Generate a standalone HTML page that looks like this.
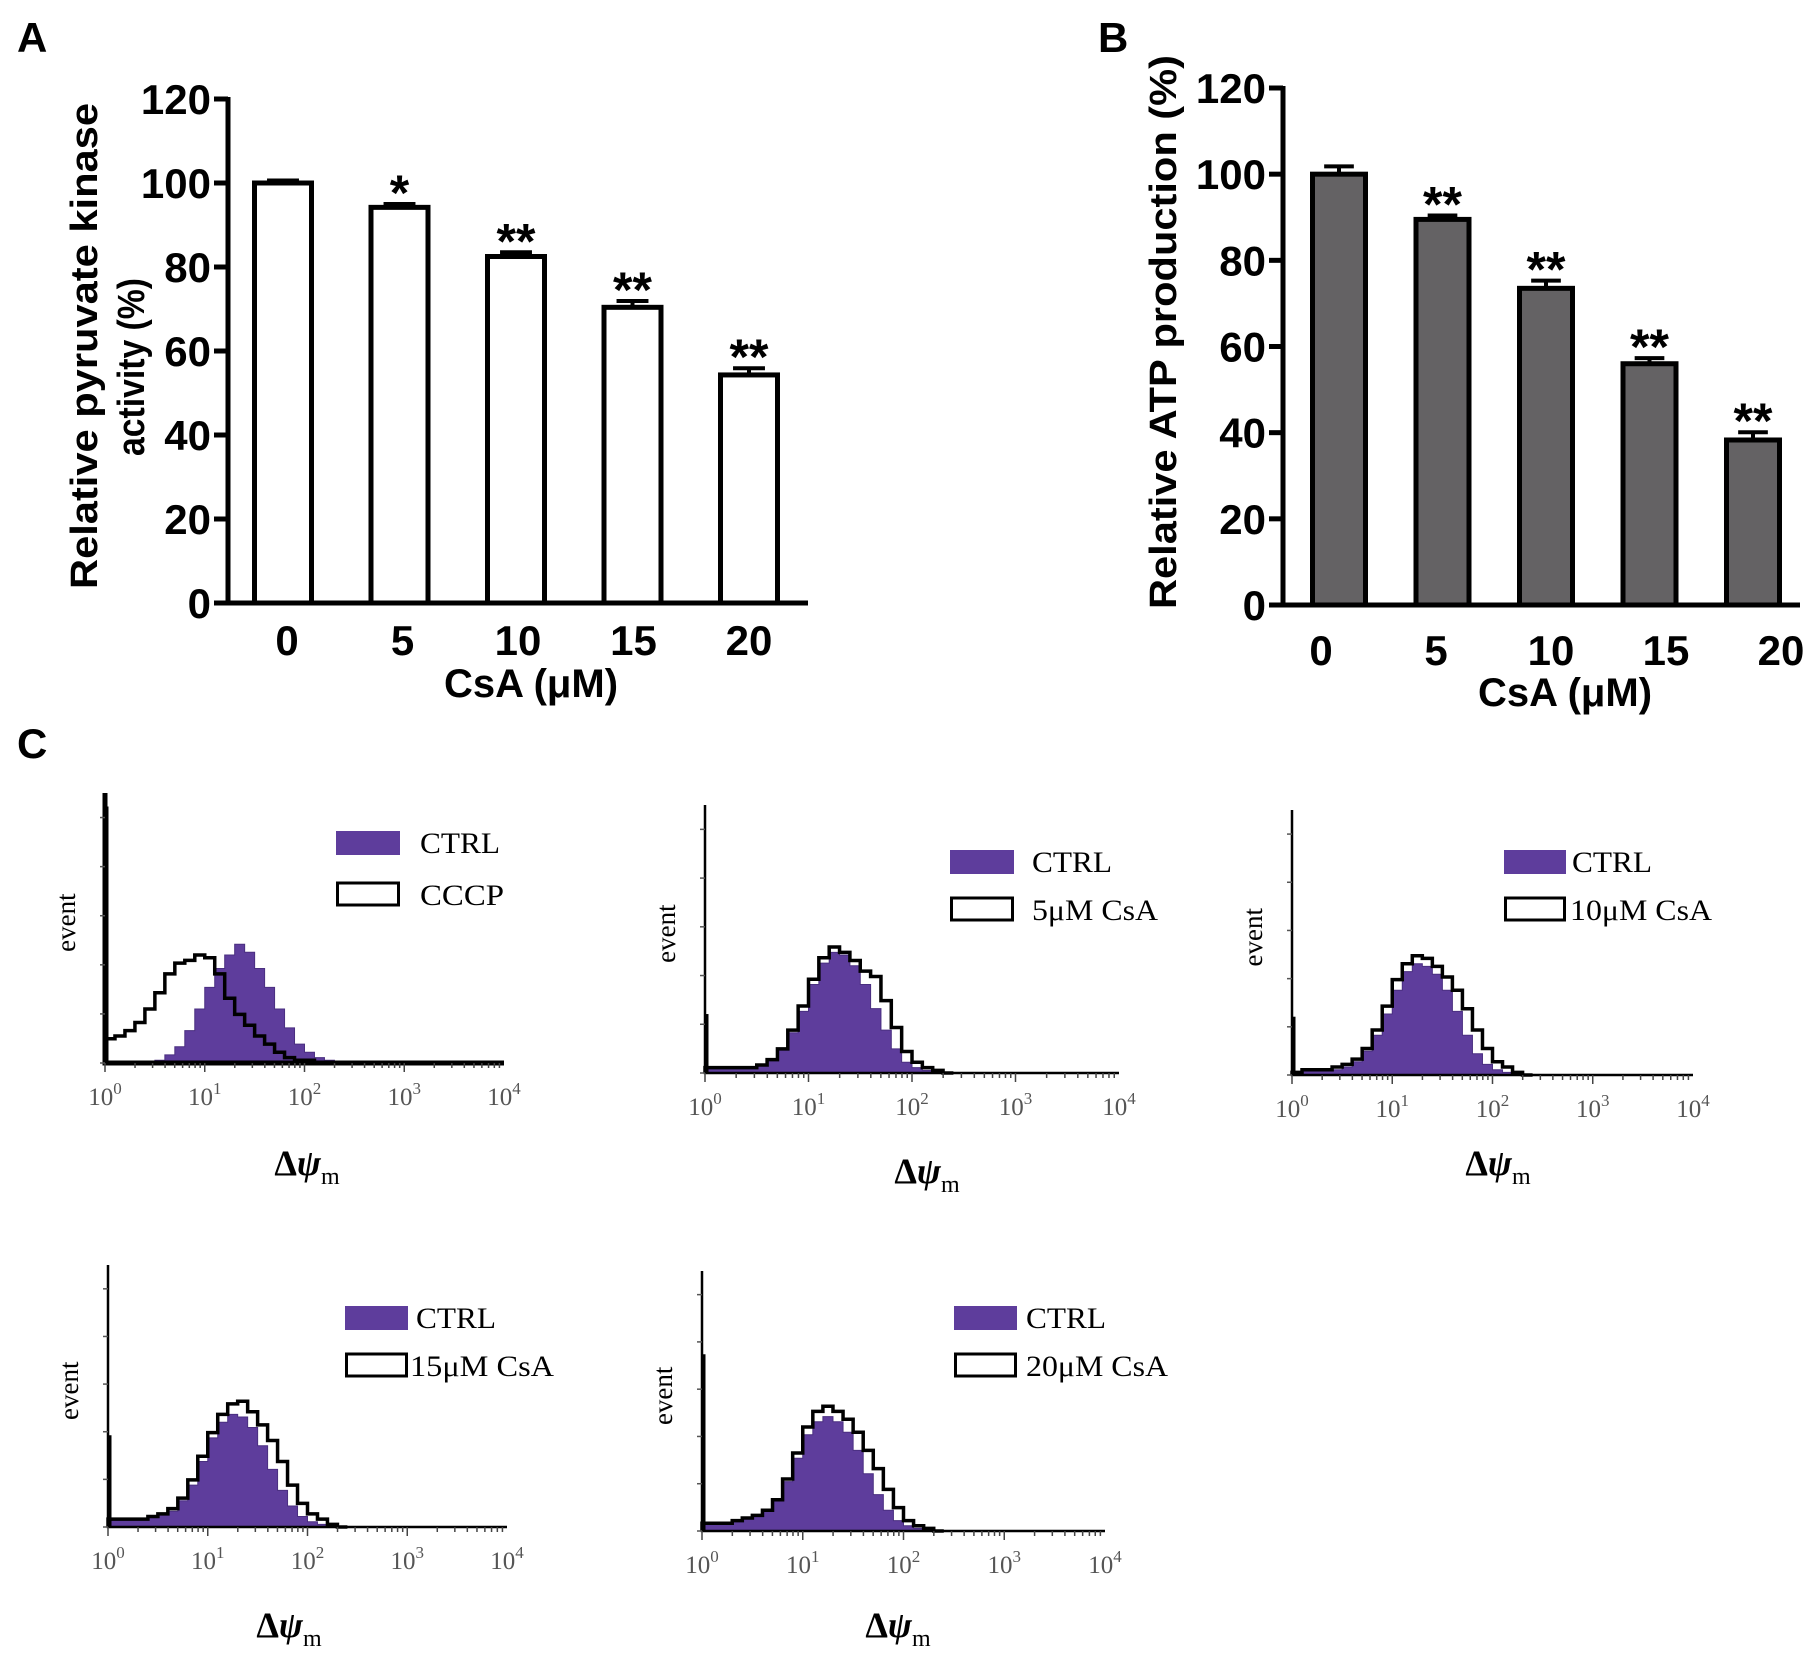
<!DOCTYPE html>
<html><head><meta charset="utf-8">
<style>
html,body{margin:0;padding:0;background:#fff;}
svg{display:block;}
.bold{font-family:"Liberation Sans",Arial,sans-serif;font-weight:bold;}
.serif{font-family:"Liberation Serif","Times New Roman",serif;}
</style></head>
<body>
<svg id="fig" width="1819" height="1671" viewBox="0 0 1819 1671" xmlns="http://www.w3.org/2000/svg">
<text class="bold" x="17" y="52" font-size="42">A</text>
<text class="bold" x="1098" y="52" font-size="42">B</text>
<text class="bold" x="17" y="758" font-size="42">C</text>
<g id="chartA"></g>
<g id="chartB"></g>
<g id="hists"></g>
</svg>
<script>
// ---- Panel A / B data ----
const doseCats = ["0","5","10","15","20"];
const yTicks = [0,20,40,60,80,100,120];
const aValues = [100,94.2,82.5,70.4,54.3];
const aErrors = [0.6,0.8,1.0,1.5,1.6];
const aStars = ["","*","**","**","**"];
const bValues = [100,89.5,73.5,56,38.3];
const bErrors = [1.8,0.9,1.8,1.3,1.8];
const bStars = ["","**","**","**","**"];

// ---- Panel C data (counts as fraction of plot height, bins of 0.1 decade from 10^0) ----
const histBins = [0,0.1,0.2,0.3,0.4,0.5,0.6,0.7,0.8,0.9,1.0,1.1,1.2,1.3,1.4,1.5,1.6,1.7,1.8,1.9,2.0,2.1,2.2,2.3];
const c1Ctrl = [0,0,0,0,0,0.01,0.03,0.06,0.12,0.20,0.28,0.35,0.40,0.44,0.41,0.35,0.28,0.20,0.13,0.07,0.04,0.02,0.01,0];
const c1Cccp = [0.09,0.10,0.12,0.15,0.20,0.26,0.33,0.37,0.38,0.40,0.39,0.33,0.24,0.18,0.14,0.10,0.07,0.04,0.02,0.01,0.01,0,0,0];
const c2Ctrl = [0.02,0.02,0.02,0.02,0.02,0.03,0.05,0.09,0.15,0.23,0.33,0.41,0.45,0.44,0.40,0.33,0.24,0.16,0.09,0.04,0.02,0.01,0,0];
const c2Csa  = [0.02,0.02,0.02,0.02,0.02,0.03,0.05,0.09,0.16,0.25,0.35,0.43,0.47,0.45,0.42,0.38,0.36,0.27,0.17,0.08,0.04,0.02,0.01,0];
const c3Ctrl = [0.01,0.02,0.02,0.02,0.02,0.03,0.05,0.09,0.15,0.23,0.32,0.39,0.42,0.41,0.38,0.32,0.24,0.15,0.08,0.04,0.02,0.01,0,0];
const c3Csa  = [0.01,0.02,0.02,0.02,0.03,0.04,0.06,0.10,0.17,0.26,0.36,0.42,0.45,0.44,0.41,0.37,0.32,0.25,0.17,0.10,0.05,0.03,0.01,0];
const c4Ctrl = [0.03,0.03,0.03,0.03,0.04,0.05,0.06,0.10,0.16,0.25,0.34,0.40,0.43,0.42,0.38,0.31,0.22,0.14,0.08,0.04,0.02,0.01,0,0];
const c4Csa  = [0.03,0.03,0.03,0.03,0.04,0.05,0.07,0.11,0.18,0.27,0.36,0.43,0.47,0.48,0.44,0.39,0.33,0.25,0.16,0.09,0.05,0.03,0.01,0];
const c5Ctrl = [0.03,0.03,0.03,0.04,0.05,0.06,0.08,0.12,0.19,0.28,0.37,0.42,0.44,0.42,0.38,0.31,0.22,0.14,0.08,0.04,0.02,0.01,0,0];
const c5Csa  = [0.03,0.03,0.03,0.04,0.05,0.06,0.08,0.12,0.20,0.30,0.40,0.46,0.48,0.46,0.43,0.38,0.31,0.24,0.16,0.09,0.04,0.02,0.01,0];
const c1Spike = 0.95, c2Spike = 0.22, c3Spike = 0.22, c4Spike = 0.35, c5Spike = 0.68;
const decadeLabels = ["0","1","2","3","4"];

const NS = "http://www.w3.org/2000/svg";
function mk(tag, attrs, parent){
  const e = document.createElementNS(NS, tag);
  for (const k in attrs) e.setAttribute(k, attrs[k]);
  parent.appendChild(e);
  return e;
}

function barChart(g, cfg, values, errors, stars){
  const y = v => cfg.y0 - v * (cfg.y0 - cfg.yTop) / 120;
  const x = i => cfg.c0 + i * cfg.step;
  values.forEach((v,i)=>{
    const r = mk("rect",{x:x(i)-cfg.bw/2, y:y(v), width:cfg.bw, height:cfg.y0-y(v), fill:cfg.fill, stroke:"#000","stroke-width":5}, g);
    
    
    const e = mk("path",{d:`M${x(i)} ${y(v)}V${y(v+errors[i])}M${x(i)-cfg.bw*0.28} ${y(v+errors[i])}H${x(i)+cfg.bw*0.28}`, stroke:"#000","stroke-width":4,fill:"none"}, g);
    
    
    if (stars[i]) {
      const s = mk("text",{x:x(i), y:y(v+errors[i])+6, "text-anchor":"middle", "font-size":50, class:"bold"}, g);
      s.textContent = stars[i];
      
      
    }
  });
  const ax = mk("path",{d:`M${cfg.ax} ${cfg.yTop-2}V${cfg.y0}M${cfg.ax-14} ${cfg.y0}H${cfg.xEnd}`, stroke:"#000","stroke-width":5,fill:"none"}, g);
  
  
  yTicks.forEach(t=>{
    const tk = mk("path",{d:`M${cfg.ax-14} ${y(t)}H${cfg.ax}`, stroke:"#000","stroke-width":5}, g);
    
    
    const tl = mk("text",{x:cfg.ax-17, y:y(t)+15, "text-anchor":"end", "font-size":42, class:"bold"}, g);
    tl.textContent = t;
    
    
  });
  doseCats.forEach((c,i)=>{
    const tl = mk("text",{x:cfg.lx0 + i*cfg.lstep, y:cfg.ly, "text-anchor":"middle", "font-size":42, class:"bold"}, g);
    tl.textContent = c;
    
    
  });
  const xt = mk("text",{x:cfg.xtx, y:cfg.xty, "text-anchor":"middle", "font-size":40, class:"bold"}, g);
  xt.textContent = "CsA (\u03BCM)";
  
  
  cfg.titles.forEach(tt=>{
    const t = mk("text",{x:tt.x, y:tt.y, "text-anchor":"middle", "dominant-baseline":"central", "font-size":38, class:"bold", transform:`rotate(-90 ${tt.x} ${tt.y})`, textLength:tt.len, lengthAdjust:"spacingAndGlyphs"}, g);
    t.textContent = tt.text;
    
    
  });
}

barChart(document.getElementById("chartA"), {
  ax:228, yTop:99, y0:603, xEnd:808, c0:283, step:116.5, bw:57, fill:"#fff",
  lx0:287, lstep:115.5, ly:655, xtx:531, xty:697,
  titles:[{x:85,y:346,len:486,text:"Relative pyruvate kinase"},{x:132,y:367,len:178,text:"activity (%)"}]
}, aValues, aErrors, aStars);

barChart(document.getElementById("chartB"), {
  ax:1283, yTop:88, y0:605, xEnd:1800, c0:1339, step:103.5, bw:53, fill:"#646264",
  lx0:1321, lstep:115, ly:665, xtx:1565, xty:706,
  titles:[{x:1164,y:332,len:554,text:"Relative ATP production (%)"}]
}, bValues, bErrors, bStars);

function hist(g, cfg, ctrl, treat, spike, label){
  const H = cfg.y0 - cfg.yTop;
  const dec = (cfg.xEnd - cfg.ax) / 4;
  const X = l => cfg.ax + l * dec;
  const Y = f => cfg.y0 - f * H;
  const bw = 0.1;
  function stepPath(arr, close){
    let d = `M${X(0)} ${cfg.y0}`;
    arr.forEach((v,i)=>{ d += `V${Y(v)}H${X(histBins[i]+bw)}`; });
    d += `V${cfg.y0}`;
    if (close) d += "Z";
    return d;
  }
  const f = mk("path",{d:stepPath(ctrl,true), fill:"#5e3d9c", stroke:"#4a2f80","stroke-width":1}, g);
  
  
  const o = mk("path",{d:stepPath(treat,false), fill:"none", stroke:"#000","stroke-width":3.5}, g);
  
  
  const sp = mk("path",{d:`M${X(0)+2} ${cfg.y0}V${Y(spike)}`, stroke:"#000","stroke-width":3}, g);
  
  
  const ax = mk("path",{d:`M${cfg.ax} ${cfg.yTop}V${cfg.y0}H${cfg.xEnd}`, stroke:"#000","stroke-width":cfg.axw||2.5,fill:"none"}, g);
  
  
  for (let k=0;k<4;k++){
    for (let m=1;m<=9;m++){
      const xx = X(k + Math.log10(m));
      const tk = mk("path",{d:`M${xx} ${cfg.y0}V${cfg.y0 + (m===1?9:5)}`, stroke:"#444","stroke-width":1.5}, g);
      
      
    }
  }
  for (let k=0;k<6;k++){
    const tk = mk("path",{d:`M${cfg.ax-5} ${cfg.y0 - k*H/5.5}H${cfg.ax}`, stroke:"#555","stroke-width":1.5}, g);
    
    
  }
  decadeLabels.forEach((d,k)=>{
    const t = mk("text",{x:X(k), y:cfg.y0+42, "text-anchor":"middle", "font-size":25, fill:"#555", class:"serif"}, g);
    t.textContent = "10";
    const s = mk("tspan",{dy:-11, "font-size":17}, t);
    s.textContent = d;
    
    
  });
  const ev = mk("text",{x:cfg.ax-30, y:cfg.yTop + H*0.48, "text-anchor":"middle", "font-size":27, class:"serif", transform:`rotate(-90 ${cfg.ax-30} ${cfg.yTop + H*0.48})`}, g);
  ev.textContent = "event";
  
  
  const xt = mk("text",{x:cfg.dx, y:cfg.dy, "text-anchor":"middle", "font-size":36, class:"serif", "font-weight":"bold"}, g);
  xt.textContent = "\u0394";
  const psi = mk("tspan",{"font-style":"italic"}, xt); psi.textContent = "\u03C8";
  const sub = mk("tspan",{dy:9, "font-size":24, "font-weight":"normal"}, xt); sub.textContent = "m";
  
  
  const r1 = mk("rect",{x:cfg.lx, y:cfg.ly1, width:cfg.lw, height:24, fill:"#5e3d9c"}, g);
  
  
  const r2 = mk("rect",{x:cfg.lx+1.5, y:cfg.ly2, width:cfg.lw-3, height:22, fill:"#fff", stroke:"#000","stroke-width":3}, g);
  
  
  const t1 = mk("text",{x:cfg.tx1, y:cfg.ly1+22, "font-size":30, class:"serif", textLength:80, lengthAdjust:"spacingAndGlyphs"}, g);
  t1.textContent = "CTRL";
  
  
  const t2 = mk("text",{x:cfg.tx2, y:cfg.ly2+22, "font-size":30, class:"serif", textLength:cfg.tl2, lengthAdjust:"spacingAndGlyphs"}, g);
  t2.textContent = label;
  
  
}

const HG = document.getElementById("hists");
function sub(name){ const g = mk("g",{},HG);   return g; }
hist(sub("histogram-cccp"), {ax:105,yTop:793,y0:1063,xEnd:504,axw:5,dx:307,dy:1175,lx:336,lw:64,ly1:831,ly2:883,tx1:420,tx2:420,tl2:84}, c1Ctrl, c1Cccp, c1Spike, "CCCP");
hist(sub("histogram-5um"), {ax:705,yTop:805,y0:1073,xEnd:1119,dx:927,dy:1183,lx:950,lw:64,ly1:850,ly2:898,tx1:1032,tx2:1032,tl2:126}, c2Ctrl, c2Csa, c2Spike, "5\u03BCM CsA");
hist(sub("histogram-10um"), {ax:1292,yTop:810,y0:1075,xEnd:1693,dx:1498,dy:1175,lx:1504,lw:62,ly1:850,ly2:898,tx1:1572,tx2:1570,tl2:142}, c3Ctrl, c3Csa, c3Spike, "10\u03BCM CsA");
hist(sub("histogram-15um"), {ax:108,yTop:1265,y0:1527,xEnd:507,dx:289,dy:1637,lx:345,lw:63,ly1:1306,ly2:1354,tx1:416,tx2:410,tl2:144}, c4Ctrl, c4Csa, c4Spike, "15\u03BCM CsA");
hist(sub("histogram-20um"), {ax:702,yTop:1271,y0:1531,xEnd:1105,dx:898,dy:1637,lx:954,lw:63,ly1:1306,ly2:1354,tx1:1026,tx2:1026,tl2:142}, c5Ctrl, c5Csa, c5Spike, "20\u03BCM CsA");
</script>
</body></html>
